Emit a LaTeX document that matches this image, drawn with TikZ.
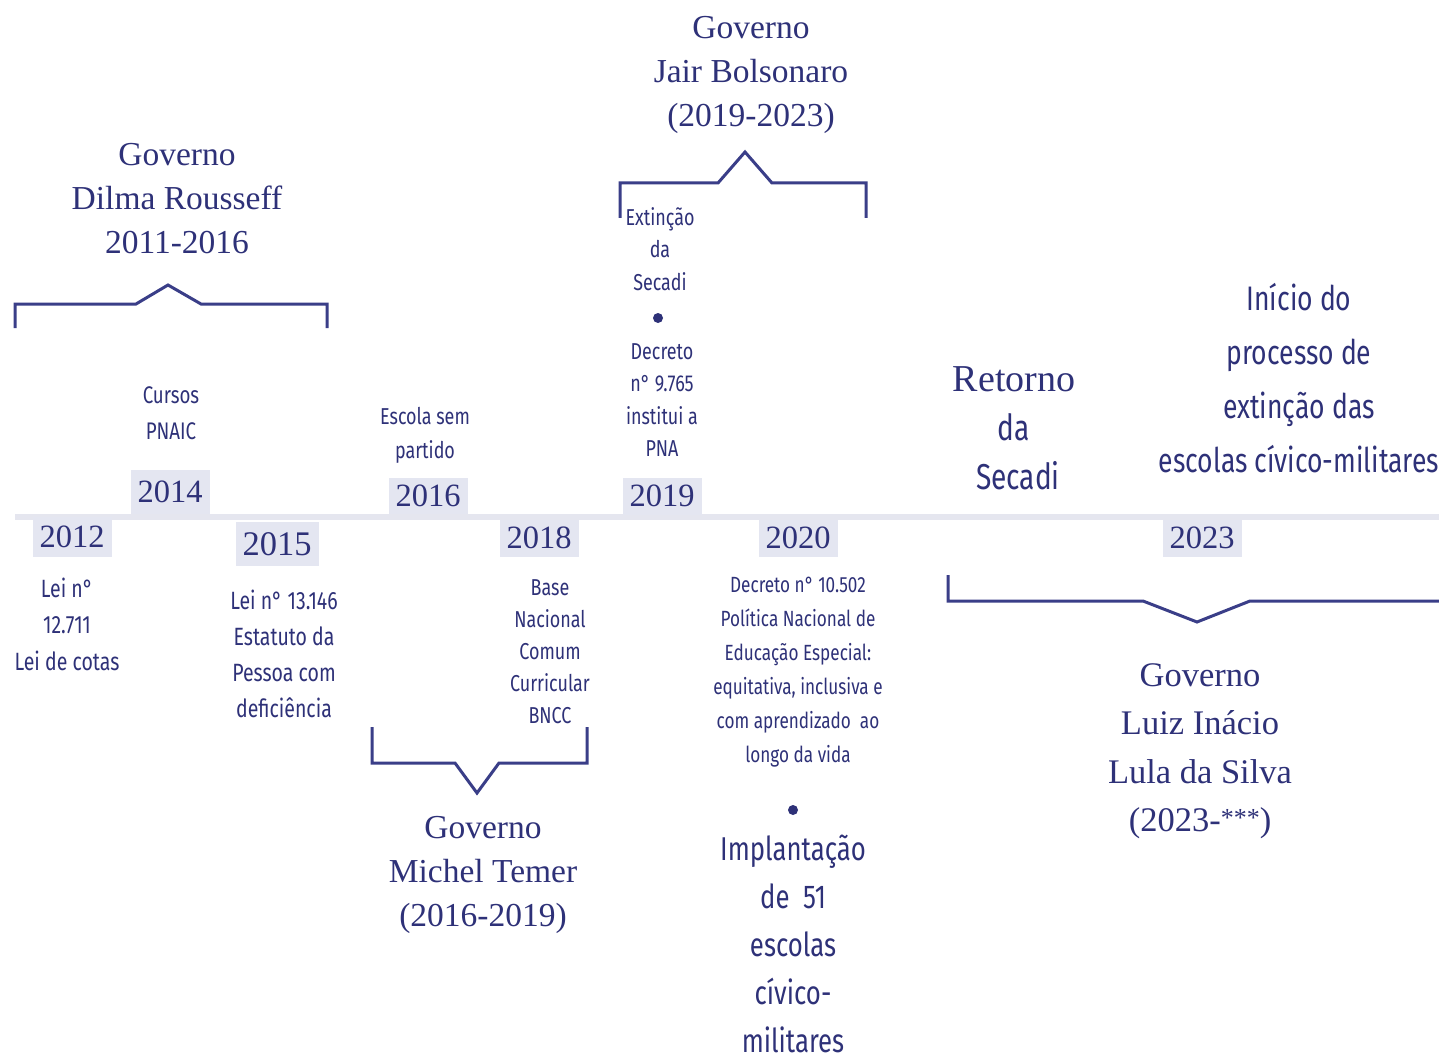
\documentclass[tikz,border=0pt]{standalone}
\usepackage{fontspec}
\setmainfont{Liberation Serif}
\newfontfamily\cond[FakeStretch=0.78]{Fira Sans}
\definecolor{navy}{HTML}{2E3178}
\definecolor{brk}{HTML}{3A3E88}
\definecolor{boxc}{HTML}{E4E6F1}
\definecolor{band}{HTML}{E5E6EF}
\begin{document}
\begin{tikzpicture}[x=1pt,y=-1pt,
  yearbox/.style={fill=boxc,text=navy,font=\fontsize{32.5}{32.5}\selectfont,inner xsep=7pt,inner ysep=0pt,minimum height=40pt},
  head/.style={text=navy,align=center,inner sep=0pt,font=\fontsize{33.5}{44}\selectfont},
  small/.style={text=navy,align=center,inner sep=0pt,font=\cond\fontsize{24}{36}\selectfont},
  bracket/.style={draw=brk,line width=3pt,line join=miter}]
\useasboundingbox (0,0) rectangle (1439,1059);
\fill[white] (0,0) rectangle (1439,1059);

% timeline
\coordinate (t0) at (15,517);
\coordinate (t1) at (1445,517);
\draw[band,line width=6pt] (t0) -- (t1);

% years
\node[yearbox,minimum height=40pt] (y2012) at (72,537) {2012};
\node[yearbox,minimum height=44pt] (y2014) at (170,492) {2014};
\node[yearbox,minimum height=44pt,font=\fontsize{34.5}{34.5}\selectfont] (y2015) at (277,544) {2015};
\node[yearbox,minimum height=36pt] (y2016) at (428,496) {2016};
\node[yearbox,minimum height=37pt] (y2018) at (539,538) {2018};
\node[yearbox,minimum height=37pt] (y2019) at (662,496) {2019};
\node[yearbox,minimum height=37pt] (y2020) at (798,538) {2020};
\node[yearbox,minimum height=37pt] (y2023) at (1202,538) {2023};

% government headings
\node[head] (dilma) at (177,199) {Governo\\Dilma Rousseff\\2011-2016};
\node[head] (bolso) at (751,75) {Governo\\Jair Bolsonaro\\(2019-2023)};
\node[head] (temer) at (483,875) {Governo\\Michel Temer\\(2016-2019)};
\node[head,font=\fontsize{34.5}{48.5}\selectfont] (lula) at (1200,751) {Governo\\Luiz Inácio\\Lula da Silva\\(2023-\raisebox{0.3ex}{\fontsize{26}{26}\selectfont ***})};

% brackets
\draw[bracket] (15,328) -- (15,304) -- (136,304) -- (168,285) -- (201,304) -- (327,304) -- (327,328);
\draw[bracket] (620,218) -- (620,183) -- (718,183) -- (745,152) -- (772,183) -- (866,183) -- (866,218);
\draw[bracket] (372,727) -- (372,763) -- (455,763) -- (477,793) -- (499,763) -- (587,763) -- (587,727);
\draw[bracket] (948,575) -- (948,601) -- (1143,601) -- (1197,622) -- (1250,601) -- (1445,601);

% events
\node[small] (pnaic) at (171,413) {Cursos\\PNAIC};
\node[small,font=\cond\fontsize{23}{34}\selectfont] (escola) at (425,435) {Escola sem\\partido};
\node[small,font=\cond\fontsize{23}{32.5}\selectfont] (extin) at (660,249) {Extinção\\da\\Secadi};
\fill[navy] (658,318) circle (5);
\node[small,font=\cond\fontsize{23}{32.5}\selectfont] (dec9765) at (662,400) {Decreto\\n° 9.765\\institui a\\PNA};
\node[small,font=\cond\fontsize{25}{36.5}\selectfont] (lei12711) at (67,624) {Lei n°\\12.711\\Lei de cotas};
\node[small,font=\cond\fontsize{25}{36}\selectfont] (lei13146) at (284,654) {Lei n° 13.146\\Estatuto da\\Pessoa com\\deficiência};
\node[small,font=\cond\fontsize{23}{32}\selectfont] (bncc) at (550,652) {Base\\Nacional\\Comum\\Curricular\\BNCC};
\node[small,font=\cond\fontsize{22}{34}\selectfont] (dec10502) at (798,672) {Decreto n° 10.502\\Política Nacional de\\Educação Especial:\\equitativa, inclusiva e\\com aprendizado~~ao\\longo da vida};
\fill[navy] (793,810) circle (5);
\node[small,font=\cond\fontsize{33}{48}\selectfont] (implant) at (793,944) {Implantação\\de~ 51\\escolas\\cívico-\\militares};
\node[small,font=\cond\fontsize{36}{49}\selectfont] (retorno) at (1014,428) {{\rmfamily\fontsize{38}{49}\selectfont Retorno}\\da\\\hspace*{8pt}Secadi};
\node[small,font=\cond\fontsize{34}{54}\selectfont] (inicio) at (1299,378) {Início do\\processo de\\extinção das\\escolas cívico-militares};
\end{tikzpicture}
\end{document}
